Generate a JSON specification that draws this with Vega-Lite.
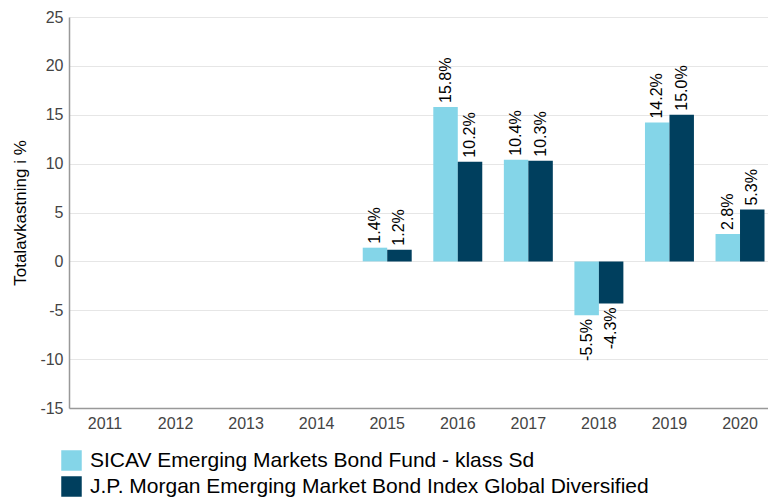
{
  "$schema": "https://vega.github.io/schema/vega-lite/v6.json",
  "width": 699,
  "height": 391,
  "autosize": "none",
  "padding": {"left": 69, "top": 17, "right": 0, "bottom": 89},
  "background": "white",
  "config": {
    "font": "Liberation Sans",
    "view": {"stroke": null},
    "axis": {"labelFont": "Liberation Sans", "titleFont": "Liberation Sans"}
  },
  "data": {
    "values": [
      {"year": "2015", "series": "SICAV Emerging Markets Bond Fund - klass Sd", "value": 1.4, "label": "1.4%"},
      {"year": "2015", "series": "J.P. Morgan Emerging Market Bond Index Global Diversified", "value": 1.2, "label": "1.2%"},
      {"year": "2016", "series": "SICAV Emerging Markets Bond Fund - klass Sd", "value": 15.8, "label": "15.8%"},
      {"year": "2016", "series": "J.P. Morgan Emerging Market Bond Index Global Diversified", "value": 10.2, "label": "10.2%"},
      {"year": "2017", "series": "SICAV Emerging Markets Bond Fund - klass Sd", "value": 10.4, "label": "10.4%"},
      {"year": "2017", "series": "J.P. Morgan Emerging Market Bond Index Global Diversified", "value": 10.3, "label": "10.3%"},
      {"year": "2018", "series": "SICAV Emerging Markets Bond Fund - klass Sd", "value": -5.5, "label": "-5.5%"},
      {"year": "2018", "series": "J.P. Morgan Emerging Market Bond Index Global Diversified", "value": -4.3, "label": "-4.3%"},
      {"year": "2019", "series": "SICAV Emerging Markets Bond Fund - klass Sd", "value": 14.2, "label": "14.2%"},
      {"year": "2019", "series": "J.P. Morgan Emerging Market Bond Index Global Diversified", "value": 15.0, "label": "15.0%"},
      {"year": "2020", "series": "SICAV Emerging Markets Bond Fund - klass Sd", "value": 2.8, "label": "2.8%"},
      {"year": "2020", "series": "J.P. Morgan Emerging Market Bond Index Global Diversified", "value": 5.3, "label": "5.3%"}
    ]
  },
  "encoding": {
    "x": {
      "field": "year",
      "type": "ordinal",
      "scale": {
        "domain": ["2011", "2012", "2013", "2014", "2015", "2016", "2017", "2018", "2019", "2020"],
        "range": [0, 707],
        "paddingInner": 0.306,
        "paddingOuter": 0.163
      },
      "axis": {
        "title": null,
        "labelAngle": 0,
        "labelFontSize": 16,
        "labelColor": "#444444",
        "labelPadding": 7,
        "ticks": false,
        "domainColor": "#999999",
        "domainWidth": 1.5,
        "grid": false
      }
    },
    "xOffset": {
      "field": "series",
      "type": "nominal",
      "scale": {
        "domain": ["SICAV Emerging Markets Bond Fund - klass Sd", "J.P. Morgan Emerging Market Bond Index Global Diversified"],
        "paddingInner": 0,
        "paddingOuter": 0
      }
    },
    "y": {
      "field": "value",
      "type": "quantitative",
      "scale": {"domain": [-15, 25], "nice": false, "zero": false},
      "axis": {
        "title": "Totalavkastning i %",
        "titleFontSize": 17,
        "titleFontWeight": "normal",
        "titleColor": "#000000",
        "titlePadding": 10,
        "values": [-15, -10, -5, 0, 5, 10, 15, 20, 25],
        "labelExpr": "replace(datum.label, '\u2212', '-')",
        "labelFontSize": 16,
        "labelColor": "#444444",
        "labelPadding": 6,
        "ticks": false,
        "domainColor": "#999999",
        "domainWidth": 1.5,
        "gridColor": "#e6e6e6",
        "gridWidth": 1
      }
    }
  },
  "layer": [
    {
      "mark": {"type": "bar"},
      "encoding": {
        "color": {
          "field": "series",
          "type": "nominal",
          "scale": {
            "domain": ["SICAV Emerging Markets Bond Fund - klass Sd", "J.P. Morgan Emerging Market Bond Index Global Diversified"],
            "range": ["#84d5e8", "#003f5e"]
          },
          "legend": {
            "title": null,
            "orient": "none",
            "legendX": -8,
            "legendY": 433,
            "direction": "vertical",
            "symbolType": "square",
            "symbolSize": 420,
            "symbolStrokeWidth": 0,
            "symbolOpacity": 1,
            "labelFontSize": 21,
            "labelColor": "#000000",
            "labelOffset": 8,
            "labelLimit": 800,
            "rowPadding": 4,
            "padding": 0
          }
        }
      }
    },
    {
      "transform": [{"filter": "datum.value >= 0"}],
      "mark": {"type": "text", "angle": 270, "align": "left", "baseline": "middle", "dx": 4, "fontSize": 16, "color": "#000000"},
      "encoding": {"text": {"field": "label"}}
    },
    {
      "transform": [{"filter": "datum.value < 0"}],
      "mark": {"type": "text", "angle": 270, "align": "right", "baseline": "middle", "dx": -4, "fontSize": 16, "color": "#000000"},
      "encoding": {"text": {"field": "label"}}
    }
  ]
}
